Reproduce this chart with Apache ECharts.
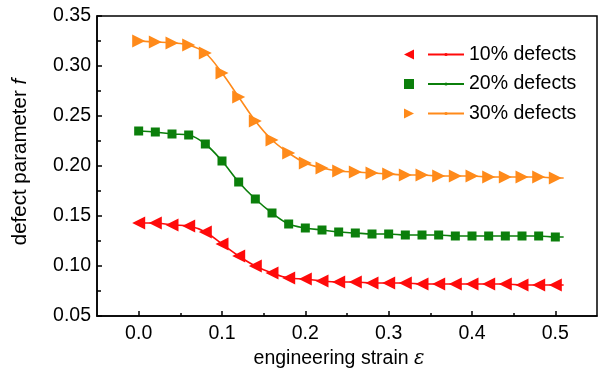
<!DOCTYPE html>
<html>
<head>
<meta charset="utf-8">
<script src="https://cdn.jsdelivr.net/npm/echarts@6/dist/echarts.min.js"></script>
<style>html,body{margin:0;padding:0;background:#fff;}#c{width:605px;height:374px;}</style>
</head>
<body>
<div id="c"></div>
<script>
// ---- data ----
const strain = [0.00,0.02,0.04,0.06,0.08,0.10,0.12,0.14,0.16,0.18,0.20,0.22,0.24,0.26,0.28,0.30,0.32,0.34,0.36,0.38,0.40,0.42,0.44,0.46,0.48,0.50];
const defects10 = [0.143,0.143,0.141,0.140,0.134,0.122,0.110,0.100,0.093,0.088,0.087,0.085,0.084,0.084,0.083,0.083,0.083,0.082,0.082,0.082,0.082,0.082,0.082,0.081,0.081,0.081];
const defects20 = [0.235,0.234,0.232,0.231,0.222,0.205,0.184,0.167,0.153,0.142,0.138,0.136,0.134,0.133,0.132,0.132,0.131,0.131,0.131,0.130,0.130,0.130,0.130,0.130,0.130,0.129];
const defects30 = [0.325,0.324,0.323,0.321,0.313,0.293,0.269,0.245,0.226,0.213,0.203,0.198,0.195,0.194,0.193,0.192,0.191,0.191,0.190,0.190,0.190,0.189,0.189,0.189,0.189,0.188];
const fitEndStrain = 0.51;
const fitEnd10 = 0.081;
const fitEnd20 = 0.129;
const fitEnd30 = 0.188;
const seriesNames = ['10% defects','20% defects','30% defects'];
const xMajorTicks = [0.0,0.1,0.2,0.3,0.4,0.5];
const xMinorTicks = [0.05,0.15,0.25,0.35,0.45];

const FONT = 'Liberation Sans';
const colors = ['#ff0a0a','#0b7f0b','#ff8a1a'];
const symbols = ['triangle','rect','triangle'];
const rotates = [90,0,-90];
const sizes = [13,9,13];
const legendIcons = ['path://M10,0L10,10L0,5Z','rect','path://M0,0L0,10L10,5Z'];
const sets = [defects10, defects20, defects30];
const ends = [fitEnd10, fitEnd20, fitEnd30];

const pts = v => strain.map((x,i)=>[x,v[i]]);
const series = [];
sets.forEach((v,k)=>{
  series.push({
    name: seriesNames[k], type:'line', xAxisIndex:0, yAxisIndex:0,
    data: pts(v).concat([[fitEndStrain, ends[k]]]),
    smooth: 0.35, showSymbol:false, symbol:'circle', symbolSize:2,
    color: colors[k], lineStyle:{color:colors[k], width:1.6}, itemStyle:{color:colors[k]},
    z:2, silent:true
  });
});
sets.forEach((v,k)=>{
  series.push({
    name: 'pts'+k, type:'scatter', xAxisIndex:0, yAxisIndex:0,
    data: pts(v), symbol: symbols[k], symbolRotate: rotates[k], symbolSize: sizes[k],
    color: colors[k], itemStyle:{color:colors[k], opacity:1}, z:3, silent:true
  });
});

const chart = echarts.init(document.getElementById('c'), null, {renderer:'canvas'});
chart.setOption({
  animation:false,
  backgroundColor:'#fff',
  textStyle:{fontFamily:FONT},
  grid:{left:97, right:8, top:16, bottom:58, show:true, borderColor:'#000', borderWidth:1.5, backgroundColor:'transparent'},
  legend:[
    {data:[0,1,2].map(k=>({name:'pts'+k, icon:legendIcons[k], itemStyle:{color:colors[k]}})),
     orient:'vertical', left:404, top:44.5, padding:0, itemWidth:10, itemHeight:10, itemGap:9.5,
     selectedMode:false, formatter:()=>' ', textStyle:{fontSize:19.5, lineHeight:20, fontFamily:FONT}},
    {data:seriesNames, orient:'vertical', left:427, top:44.5, padding:0, itemWidth:36, itemHeight:4, itemGap:9.5,
     selectedMode:false, textStyle:{fontSize:19.5, lineHeight:20, color:'#000', fontFamily:FONT}}
  ],
  xAxis:[
    {type:'value', min:-0.05, max:0.55, position:'bottom',
     name:'engineering strain {e|ε}', nameLocation:'middle', nameGap:27,
     nameTextStyle:{fontSize:19.5, color:'#000', fontFamily:FONT, padding:[0,16,0,0],
       rich:{e:{fontSize:19.5, fontStyle:'italic', fontFamily:'DejaVu Serif', color:'#000'}}},
     axisLine:{show:true, onZero:false, lineStyle:{color:'#000', width:1.5}},
     axisTick:{show:true, inside:true, length:5, customValues:xMajorTicks, lineStyle:{color:'#000', width:1.5}},
     axisLabel:{show:true, customValues:xMajorTicks, formatter:v=>v.toFixed(1), fontSize:19.5, color:'#000', margin:8, fontFamily:FONT},
     splitLine:{show:false}},
    {type:'value', min:-0.05, max:0.55, position:'bottom', gridIndex:0,
     axisLine:{show:false, onZero:false}, axisLabel:{show:false}, splitLine:{show:false},
     axisTick:{show:true, inside:true, length:3, customValues:xMinorTicks, lineStyle:{color:'#000', width:1.5}}}
  ],
  yAxis:{type:'value', min:0.05, max:0.35, interval:0.05, position:'left',
    name:'defect parameter {i|f}', nameLocation:'middle', nameGap:66,
    nameTextStyle:{fontSize:20.5, color:'#000', fontFamily:FONT, padding:[0,0,0,8],
      rich:{i:{fontSize:20.5, fontStyle:'italic', fontFamily:FONT, color:'#000'}}},
    axisLine:{show:true, onZero:false, lineStyle:{color:'#000', width:1.5}},
    axisTick:{show:true, inside:true, length:5, lineStyle:{color:'#000', width:1.5}},
    minorTick:{show:true, splitNumber:2, length:4, lineStyle:{color:'#000', width:1.5}},
    axisLabel:{formatter:v=>v.toFixed(2), fontSize:19.5, color:'#000', margin:6, fontFamily:FONT},
    splitLine:{show:false}},
  series: series
});
</script>
</body>
</html>
